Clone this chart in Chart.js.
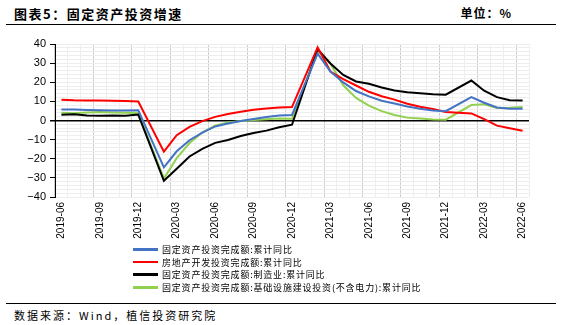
<!DOCTYPE html>
<html>
<head>
<meta charset="utf-8">
<script src="https://cdn.jsdelivr.net/npm/chart.js@4"></script>
<style>
  body { margin: 0; width: 564px; height: 325px; background: #fff; position: relative; overflow: hidden;
         font-family: "Noto Sans CJK SC", "Liberation Sans", sans-serif; color: #000; }
  #title { position: absolute; left: 14px; top: 4px; font-size: 13px; font-weight: bold; letter-spacing: 1.5px; }
  #unit { position: absolute; right: 52px; top: 4px; font-size: 12px; font-weight: bold; letter-spacing: 1px; }
  .rule { position: absolute; left: 6px; width: 550px; height: 0; border-top: 1.5px solid #000; }
  #wrap { position: absolute; left: 0; top: 30px; width: 564px; height: 215px; }
  #legend { position: absolute; left: 133px; top: 243px; }
  .item { height: 12.7px; display: flex; align-items: center; font-size: 9px; letter-spacing: 0.8px; white-space: nowrap; }
  .item span.swatch { display: inline-block; width: 25px; height: 2.5px; margin-right: 4px; }
  #source { position: absolute; left: 14px; top: 307px; font-size: 11px; letter-spacing: 2px; }
</style>
</head>
<body>
<div id="title">图表5：固定资产投资增速</div>
<div id="unit">单位：%</div>
<div class="rule" style="top:24px"></div>
<div id="wrap"><canvas id="myChart" width="564" height="215"></canvas></div>
<div id="legend"></div>
<div class="rule" style="top:303px"></div>
<div id="source">数据来源：Wind，植信投资研究院</div>
<script>
'use strict'
// months on the axis, January has no separate release (null)
var months = ['2019-06', '2019-07', '2019-08', '2019-09', '2019-10', '2019-11', '2019-12',
    '2020-01', '2020-02', '2020-03', '2020-04', '2020-05', '2020-06', '2020-07', '2020-08', '2020-09', '2020-10', '2020-11', '2020-12',
    '2021-01', '2021-02', '2021-03', '2021-04', '2021-05', '2021-06', '2021-07', '2021-08', '2021-09', '2021-10', '2021-11', '2021-12',
    '2022-01', '2022-02', '2022-03', '2022-04', '2022-05', '2022-06'];

var seriesNames = ['固定资产投资完成额:累计同比', '房地产开发投资完成额:累计同比',
    '固定资产投资完成额:制造业:累计同比', '固定资产投资完成额:基础设施建设投资(不含电力):累计同比'];
var seriesColors = ['#4472C4', '#FF0000', '#000000', '#92D050'];

var fai = [5.8, 5.7, 5.5, 5.4, 5.2, 5.2, 5.4,
    null, -24.5, -16.1, -10.3, -6.3, -3.1, -1.6, -0.3, 0.8, 1.8, 2.6, 2.9,
    null, 35.0, 25.6, 19.9, 15.4, 12.6, 10.3, 8.9, 7.3, 6.1, 5.2, 4.9,
    null, 12.2, 9.3, 6.8, 6.2, 6.1];
var realEstate = [10.9, 10.6, 10.5, 10.5, 10.3, 10.2, 9.9,
    null, -16.3, -7.7, -3.3, -0.3, 1.9, 3.4, 4.6, 5.6, 6.3, 6.8, 7.0,
    null, 38.3, 25.6, 21.6, 18.3, 15.0, 12.7, 10.9, 8.8, 7.2, 6.0, 4.4,
    null, 3.7, 0.7, -2.7, -4.0, -5.4];
var manufacturing = [3.0, 3.3, 2.6, 2.5, 2.6, 2.5, 3.1,
    null, -31.5, -25.2, -18.8, -14.8, -11.7, -10.2, -8.1, -6.5, -5.3, -3.5, -2.2,
    null, 37.3, 29.8, 23.8, 20.4, 19.2, 17.3, 15.7, 14.8, 14.2, 13.7, 13.5,
    null, 20.9, 15.6, 12.2, 10.6, 10.4];
var infra = [4.1, 3.8, 4.2, 4.5, 4.2, 4.0, 3.8,
    null, -30.3, -19.7, -11.8, -6.3, -2.7, -1.0, -0.3, 0.2, 0.7, 1.0, 0.9,
    null, 36.6, 29.7, 18.4, 11.8, 7.8, 4.9, 2.9, 1.5, 1.0, 0.5, 0.4,
    null, 8.1, 8.5, 6.5, 6.7, 7.1];

var allSeries = [fai, realEstate, manufacturing, infra];

var datasets = [];
for (let i = 0; i < allSeries.length; i++) {
    datasets.push({
        label: seriesNames[i],
        data: allSeries[i],
        borderColor: seriesColors[i],
        backgroundColor: seriesColors[i],
        borderWidth: 2,
        pointRadius: 0,
        tension: 0,
        spanGaps: true
    });
}

var ctx = document.getElementById('myChart').getContext('2d');
var chart = new Chart(ctx, {
    type: 'line',
    data: { labels: months, datasets: datasets },
    options: {
        responsive: false,
        animation: false,
        layout: { padding: { left: 0, right: 35, top: 14, bottom: 0 } },
        plugins: { legend: { display: false }, tooltip: { enabled: false } },
        scales: {
            x: {
                z: -1,
                offset: true,
                grid: {
                    offset: true,
                    drawTicks: false,
                    color: function (c) { return (c.index % 3 === 0) ? '#cfcfcf' : '#eeeeee'; }
                },
                border: { display: false },
                ticks: {
                    autoSkip: false,
                    minRotation: 90,
                    maxRotation: 90,
                    padding: 5,
                    color: '#000',
                    font: { family: 'Liberation Sans', size: 10 },
                    callback: function (v, i) { return i % 3 === 0 ? months[i] : ''; }
                },
                afterFit: function (s) { s.height = 48; }
            },
            y: {
                min: -40,
                max: 40,
                grid: {
                    color: function (c) { return c.tick.value === 0 ? '#000000' : '#eeeeee'; },
                    lineWidth: function (c) { return c.tick.value === 0 ? 1.5 : 1; },
                    tickColor: function (c) { return c.tick.value % 10 === 0 ? '#000000' : 'rgba(0,0,0,0)'; },
                    tickLength: 5
                },
                border: { color: '#000', width: 1 },
                ticks: {
                    stepSize: 2,
                    autoSkip: false,
                    padding: 4,
                    color: '#000',
                    font: { family: 'Liberation Sans', size: 11 },
                    callback: function (v) { return v % 10 === 0 ? String(v).replace('-', '\u2212') : ''; }
                },
                afterFit: function (s) { s.width = 55; }
            }
        }
    }
});

// legend, one series per row
var legend = document.getElementById('legend');
for (let i = 0; i < seriesNames.length; i++) {
    var row = document.createElement('div');
    row.className = 'item';
    var sw = document.createElement('span');
    sw.className = 'swatch';
    sw.style.background = seriesColors[i];
    row.appendChild(sw);
    row.appendChild(document.createTextNode(seriesNames[i]));
    legend.appendChild(row);
}
</script>
</body>
</html>
